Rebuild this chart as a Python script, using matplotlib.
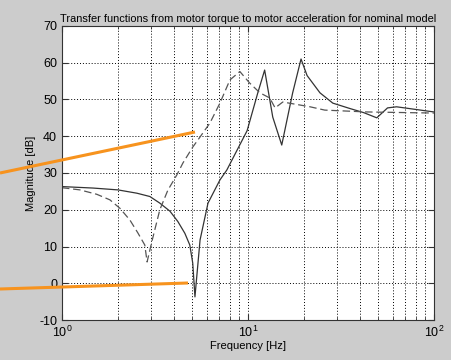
"""Recreate the motor torque -> motor acceleration transfer function plot.

MATLAB-like bode magnitude plot with two curves on a log frequency axis,
plus two orange annotation lines running off the left edge of the figure.
"""
import matplotlib
matplotlib.use('Agg')
import matplotlib.pyplot as plt
from matplotlib.lines import Line2D
from matplotlib.ticker import LogLocator, FixedLocator

# solid curve
freq_solid = [1.0, 1.47, 2.0, 2.53, 2.97, 3.36, 3.81, 4.2, 4.58, 4.87, 5.05,
              5.19, 5.53, 6.1, 7.07, 7.7, 9.9, 11.3, 12.3, 13.6, 15.2, 17.4,
              19.3, 20.8, 24.4, 28.6, 35.0, 42.0, 49.3, 56.3, 63.0, 100.0]
mag_solid = [26.3, 25.9, 25.4, 24.5, 23.6, 21.8, 19.6, 16.8, 13.6, 10.4, 5.5,
             -3.7, 11.8, 21.8, 28.1, 30.8, 41.5, 51.8, 58.0, 45.2, 37.6, 51.8,
             61.0, 56.5, 51.8, 49.0, 47.6, 46.4, 45.0, 47.7, 48.0, 46.6]

# dashed curve
freq_dashed = [1.0, 1.25, 1.54, 1.81, 2.05, 2.32, 2.56, 2.79, 2.87, 3.05, 3.36,
               3.71, 4.15, 4.47, 5.06, 5.53, 6.25, 7.07, 8.0, 9.05, 10.2,
               11.6, 13.1, 14.0, 15.4, 21.6, 25.9, 43.6, 100.0]
mag_dashed = [26.0, 25.4, 24.2, 22.7, 20.4, 17.2, 13.7, 10.4, 5.8, 11.5, 20.0,
              25.3, 29.5, 32.7, 37.1, 39.8, 43.6, 49.0, 55.3, 57.6, 54.5,
              51.8, 50.4, 47.7, 49.3, 48.0, 47.1, 46.6, 46.3]

y_ticks = [-10, 0, 10, 20, 30, 40, 50, 60, 70]
title = 'Transfer functions from motor torque to motor acceleration for nominal model'


def main():
    plt.rcParams['font.family'] = ['Liberation Sans', 'DejaVu Sans']
    plt.rcParams['axes.unicode_minus'] = False
    fig = plt.figure(figsize=(4.52, 3.6), dpi=100, facecolor='#cccccc')
    ax = fig.add_axes([0.137, 0.111, 0.823, 0.817])
    ax.set_facecolor('white')

    ax.semilogx(freq_solid, mag_solid, color='#333333', linewidth=0.9)
    ax.semilogx(freq_dashed, mag_dashed, color='#555555', linewidth=0.9,
                dashes=(6, 3))

    ax.set_xlim(1, 100)
    ax.set_ylim(-10, 70)
    ax.yaxis.set_major_locator(FixedLocator(y_ticks))
    ax.xaxis.set_major_locator(LogLocator(base=10))
    ax.xaxis.set_minor_locator(LogLocator(base=10, subs=range(2, 10)))

    # MATLAB style dotted grid and inward ticks
    ax.grid(True, which='both', color='black', linestyle=(0, (1, 2)),
            linewidth=0.7)
    ax.tick_params(which='both', direction='in', top=True, right=True,
                   labelsize=9, color='#333333')
    ax.tick_params(which='major', length=4)
    ax.tick_params(which='minor', length=2)
    for s in ax.spines.values():
        s.set_color('#333333')

    ax.set_title(title, fontsize=7.9, pad=3)
    ax.set_xlabel('Frequency [Hz]', fontsize=8, labelpad=1)
    ax.set_ylabel('Magnitude [dB]', fontsize=8, labelpad=2)

    # orange annotation lines (figure pixel positions)
    W, H = 452.0, 360.0
    for (x0, y0), (x1, y1) in [((0, 173), (195, 132)), ((0, 289), (188, 283))]:
        fig.add_artist(Line2D([x0 / W, x1 / W], [1 - y0 / H, 1 - y1 / H],
                              transform=fig.transFigure, color='#f7931e',
                              linewidth=2.2, solid_capstyle='butt'))

    fig.savefig('out.png', dpi=100, facecolor=fig.get_facecolor())
    plt.close(fig)


if __name__ == '__main__':
    main()
